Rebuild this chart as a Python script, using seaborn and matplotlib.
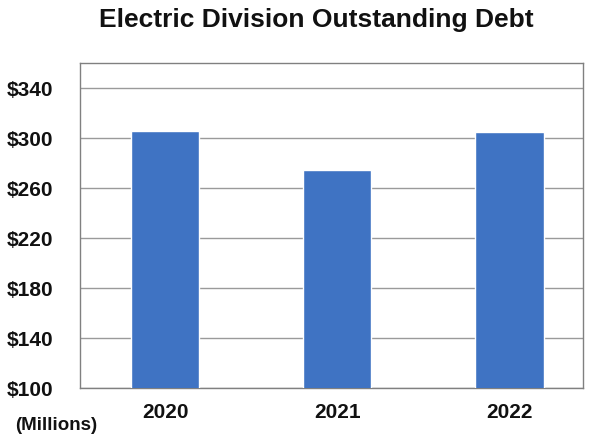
import pandas as pd
import matplotlib
matplotlib.use('Agg')
import matplotlib.pyplot as plt
import seaborn as sns

# Data (millions of dollars)
years = ['2020', '2021', '2022']
debt = [306, 274.5, 305]
yticks = [100, 140, 180, 220, 260, 300, 340]

df = pd.DataFrame({'Year': years, 'Debt': debt})

sns.set_style('white')
plt.rcParams['font.family'] = ['Liberation Sans', 'DejaVu Sans']
plt.rcParams['text.color'] = '#111111'
plt.rcParams['xtick.color'] = '#111111'
plt.rcParams['ytick.color'] = '#111111'

fig = plt.figure(figsize=(5.95, 4.36), dpi=100)
ax = fig.add_axes([0.1345, 0.110, 0.8455, 0.7455])

sns.barplot(data=df, x='Year', y='Debt', color='#3f73c3', saturation=1,
            width=0.4, ax=ax, zorder=3)

ax.set_ylim(100, 360)
ax.set_xlim(-0.494, 2.43)
ax.set_yticks(yticks)
ax.set_yticklabels([f'${v}' for v in yticks], fontsize=15, fontweight='bold')
ax.set_xticklabels(years, fontsize=15, fontweight='bold')
ax.tick_params(axis='both', length=0)
ax.tick_params(axis='x', pad=11)
ax.tick_params(axis='y', pad=19)

# Horizontal gridlines
ax.yaxis.grid(True, color='#9a9a9a', linewidth=1)
ax.set_axisbelow(True)

for side in ['top', 'right', 'left', 'bottom']:
    ax.spines[side].set_visible(True)
    ax.spines[side].set_color('#808080')
    ax.spines[side].set_linewidth(1)

ax.set_xlabel('')
ax.set_ylabel('')

fig.text(0.531, 0.954, 'Electric Division Outstanding Debt', ha='center', va='center',
         fontsize=19, fontweight='bold')
fig.text(0.025, 0.025, '(Millions)', ha='left', va='center', fontsize=13.5, fontweight='bold')

fig.savefig('out.png', dpi=100, facecolor='white')
